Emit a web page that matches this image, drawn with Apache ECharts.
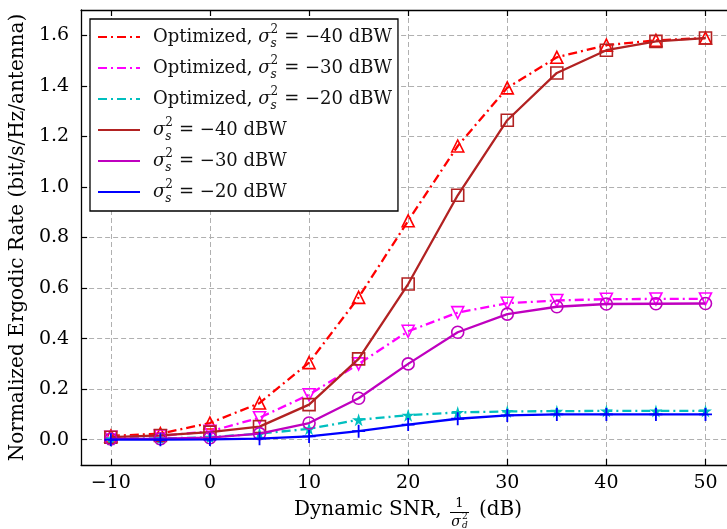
<!DOCTYPE html>
<html><head><meta charset="utf-8">
<script src="https://cdn.jsdelivr.net/npm/echarts@6/dist/echarts.min.js"></script>
<style>html,body{margin:0;padding:0;background:#fff}#c{width:727px;height:529px}</style>
</head><body><div id="c"></div>
<script>
// ---- data ----
const snr = [-10, -5, 0, 5, 10, 15, 20, 25, 30, 35, 40, 45, 50];
const opt40 = [0.015, 0.024, 0.066, 0.145, 0.305, 0.563, 0.866, 1.162, 1.392, 1.513, 1.561, 1.580, 1.589];
const opt30 = [0.010, 0.015, 0.033, 0.087, 0.178, 0.300, 0.429, 0.503, 0.540, 0.551, 0.556, 0.557, 0.557];
const opt20 = [0.003, 0.005, 0.010, 0.024, 0.043, 0.079, 0.097, 0.108, 0.112, 0.113, 0.114, 0.114, 0.114];
const base40 = [0.010, 0.017, 0.030, 0.052, 0.139, 0.320, 0.616, 0.967, 1.264, 1.451, 1.541, 1.576, 1.589];
const base30 = [0.003, 0.004, 0.008, 0.024, 0.066, 0.164, 0.300, 0.425, 0.497, 0.526, 0.537, 0.538, 0.539];
const base20 = [0.000, 0.000, 0.001, 0.004, 0.013, 0.034, 0.060, 0.083, 0.096, 0.100, 0.100, 0.100, 0.100];
const xTicks = [-10, 0, 10, 20, 30, 40, 50];
const yTicks = [0, 0.2, 0.4, 0.6, 0.8, 1.0, 1.2, 1.4, 1.6];
const seriesNames = ['Optimized, σs² = −40 dBW', 'Optimized, σs² = −30 dBW', 'Optimized, σs² = −20 dBW',
                     'σs² = −40 dBW', 'σs² = −30 dBW', 'σs² = −20 dBW'];
const legendPrefix = ['Optimized, ', 'Optimized, ', 'Optimized, ', '', '', ''];
const legendLevel = ['40', '30', '20', '40', '30', '20'];
const yTitle = 'Normalized Ergodic Rate (bit/s/Hz/antenna)';

// ---- styling ----
const FONT = 'DejaVu Serif';
const DASHDOT = [9, 4, 2, 4];
const starPath = 'path://M50,0L61,35H98L68,57L79,91L50,70L21,91L32,57L2,35H39Z';
const plusPath = 'path://M43,0H57V43H100V57H57V100H43V57H0V43H43Z';

function mk(i, vals, color, dashed, symbol, size, hollow, rotate) {
  return {
    name: seriesNames[i], type: 'line',
    data: snr.map((x, k) => [x, vals[k]]),
    symbol: symbol, symbolSize: size, symbolRotate: rotate || 0,
    showSymbol: true,
    lineStyle: { color: color, width: 2.3, type: dashed ? DASHDOT : 'solid' },
    itemStyle: hollow ? { color: 'rgba(255,255,255,0)', borderColor: color, borderWidth: 1.6 }
                      : { color: color, borderWidth: 0 },
    emphasis: { disabled: true },
    z: 2 + i
  };
}

const series = [
  mk(0, opt40, '#ff0000', true, 'triangle', 12, true),
  mk(1, opt30, '#ff00ff', true, 'triangle', 12, true, 180),
  mk(2, opt20, '#00bfbf', true, starPath, 13, false),
  mk(3, base40, '#b22222', false, 'rect', 12, true),
  mk(4, base30, '#bf00bf', false, 'circle', 12, true),
  mk(5, base20, '#0000ff', false, plusPath, 13, false)
];

const chart = echarts.init(document.getElementById('c'), null, { renderer: 'canvas' });
const tickLabel = { fontFamily: FONT, fontSize: 19, color: '#000' };
const axLine = { show: true, onZero: false, lineStyle: { color: '#000', width: 1.3 } };
const grid = { show: true, lineStyle: { color: '#b0b0b0', width: 1, type: [5, 3] } };
chart.setOption({
  animation: false,
  backgroundColor: '#fff',
  grid: { left: 80, top: 10, right: 0, height: 455, containLabel: false },
  xAxis: [{
    type: 'value', min: -13, max: 52.17,
    axisLine: axLine,
    axisTick: { show: true, inside: true, length: 6, customValues: xTicks, lineStyle: { color: '#000', width: 1.2 } },
    axisLabel: Object.assign({ margin: 9, customValues: xTicks,
      formatter: v => (v < 0 ? '−' + Math.abs(v) : String(v)) }, tickLabel),
    splitLine: grid
  }, {
    type: 'value', position: 'top', min: -13, max: 52.17,
    axisLine: axLine,
    axisTick: { show: true, inside: true, length: 6, customValues: xTicks, lineStyle: { color: '#000', width: 1.2 } },
    axisLabel: { show: false }, splitLine: { show: false }
  }],
  yAxis: {
    type: 'value', min: -0.1, max: 1.7,
    name: yTitle, nameLocation: 'middle', nameGap: 46,
    nameTextStyle: { fontFamily: FONT, fontSize: 20, color: '#000' },
    axisLine: axLine,
    axisTick: { show: true, inside: true, length: 6, customValues: yTicks, lineStyle: { color: '#000', width: 1.2 } },
    axisLabel: Object.assign({ margin: 12, customValues: yTicks,
      formatter: v => v.toFixed(1) }, tickLabel),
    splitLine: grid
  },
  legend: {
    orient: 'vertical', left: 90, top: 19, selectedMode: false,
    itemWidth: 42, itemHeight: 14, itemGap: 5,
    padding: [5, 6, 6, 7],
    backgroundColor: '#fff', borderColor: '#000', borderWidth: 1.3, borderRadius: 0,
    itemStyle: { opacity: 0 },
    data: seriesNames,
    formatter: name => {
      const i = seriesNames.indexOf(name);
      return '{t|' + legendPrefix[i] + '}{i|σ}{sup|2}{sub|s}{t| = −' + legendLevel[i] + ' dBW}';
    },
    textStyle: {
      padding: [0, 0, 0, 8],
      rich: {
        t: { fontFamily: FONT, fontSize: 18, color: '#111', lineHeight: 26 },
        i: { fontFamily: FONT, fontSize: 18, fontStyle: 'italic', color: '#111', lineHeight: 26 },
        sup: { fontFamily: FONT, fontSize: 12, color: '#111', lineHeight: 13, width: 0, verticalAlign: 'top' },
        sub: { fontFamily: FONT, fontSize: 12, fontStyle: 'italic', color: '#111', lineHeight: 13, width: 8, verticalAlign: 'bottom' }
      }
    }
  },
  graphic: [
    { type: 'text', x: 294, y: 509.5, style: { text: 'Dynamic SNR,', font: '20px "DejaVu Serif"', fill: '#000', textAlign: 'left', textVerticalAlign: 'middle' } },
    { type: 'text', x: 459.5, y: 504, style: { text: '1', font: '13px "DejaVu Serif"', fill: '#000', textAlign: 'center', textVerticalAlign: 'middle' } },
    { type: 'line', shape: { x1: 450, y1: 512.5, x2: 469, y2: 512.5 }, style: { stroke: '#000', lineWidth: 1 } },
    { type: 'text', x: 456, y: 522, style: { text: 'σ', font: 'italic 14px "DejaVu Serif"', fill: '#000', textAlign: 'center', textVerticalAlign: 'middle' } },
    { type: 'text', x: 462, y: 517, style: { text: '2', font: '9px "DejaVu Serif"', fill: '#000', textAlign: 'left', textVerticalAlign: 'middle' } },
    { type: 'text', x: 462, y: 526, style: { text: 'd', font: 'italic 9px "DejaVu Serif"', fill: '#000', textAlign: 'left', textVerticalAlign: 'middle' } },
    { type: 'text', x: 479, y: 509.5, style: { text: '(dB)', font: '20px "DejaVu Serif"', fill: '#000', textAlign: 'left', textVerticalAlign: 'middle' } }
  ],
  series: series
});
</script>
</body></html>
